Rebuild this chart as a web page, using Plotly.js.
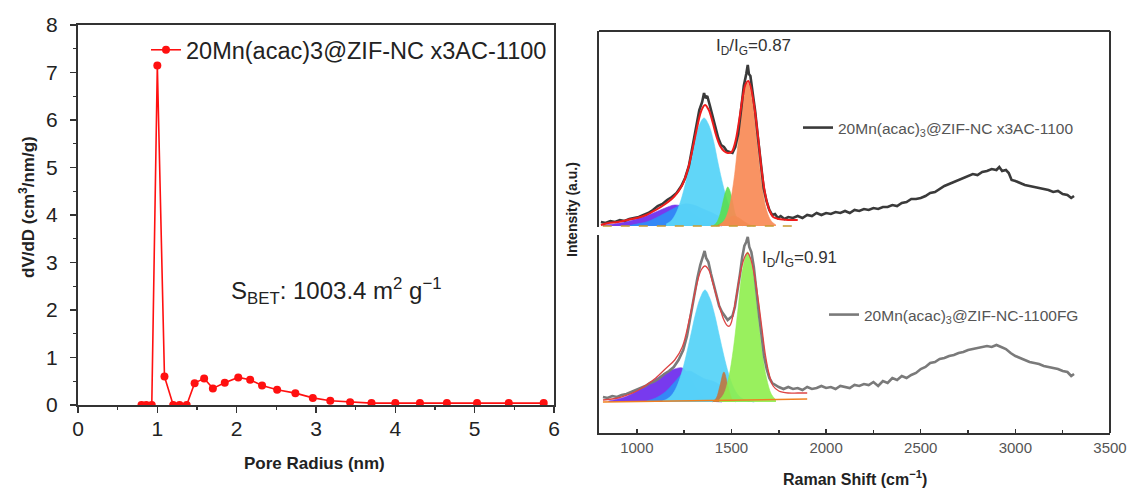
<!DOCTYPE html>
<html>
<head>
<meta charset="utf-8">
<script src="https://cdn.plot.ly/plotly-3.0.1.min.js"></script>
<style>html,body{margin:0;padding:0;background:#fff}#chart{width:1127px;height:488px}</style>
</head>
<body>
<div id="chart"></div>
<script>
// ---------- Left panel: pore size distribution ----------
const poreRadius = [0.80,0.86,0.93,1.00,1.09,1.20,1.28,1.37,1.47,1.59,1.70,1.85,2.02,2.17,2.32,2.51,2.74,2.96,3.18,3.43,3.70,4.00,4.31,4.65,5.03,5.43,5.87];
const dVdD = [0,0,0,7.15,0.60,0,0,0,0.46,0.56,0.35,0.47,0.58,0.53,0.41,0.32,0.25,0.15,0.09,0.06,0.04,0.04,0.04,0.04,0.04,0.04,0.04];
const poreLabel = "20Mn(acac)3@ZIF-NC x3AC-1100";
const poreXTicks = [0,1,2,3,4,5,6];
const poreYTicks = [0,1,2,3,4,5,6,7,8];

// ---------- Right panel: Raman spectra ----------
const topLabel = "20Mn(acac)<sub>3</sub>@ZIF-NC x3AC-1100";
const botLabel = "20Mn(acac)<sub>3</sub>@ZIF-NC-1100FG";
const ramanTicks = [1000,1500,2000,2500,3000,3500];

const topShift = [810,835,860,885,910,935,960,985,1010,1035,1060,1085,1110,1135,1160,1185,1210,1235,1255,1275,1295,1315,1330,1345,1355,1362,1372,1385,1400,1415,1430,1445,1460,1475,1490,1505,1520,1535,1550,1565,1578,1586,1592,1600,1612,1625,1640,1655,1670,1685,1700,1715,1730,1745,1760,1780,1800,1825,1850,1875,1900,1925,1950,1975,2000,2025,2050,2075,2100,2125,2150,2175,2200,2225,2250,2275,2300,2325,2350,2375,2400,2425,2450,2475,2500,2525,2550,2575,2600,2625,2650,2675,2700,2725,2750,2775,2800,2825,2850,2875,2900,2915,2930,2950,2965,2980,3000,3025,3050,3075,3100,3125,3150,3175,3200,3225,3250,3275,3295,3310];
const topInt = [4,3,5,4,6,5,7,8,9,11,13,16,20,22,26,29,33,40,48,60,80,103,116,124,133,128,130,121,110,98,88,81,79,75,74,73,79,92,115,140,152,161,152,150,133,115,88,60,38,25,16,11,12,8,10,7,9,8,10,8,11,10,13,11,13,12,14,13,15,13,16,15,17,16,18,17,19,19,21,20,23,24,27,27,28,30,33,34,37,40,42,44,46,48,50,52,51,54,55,57,56,59,55,56,53,46,45,43,41,40,39,38,37,36,34,35,32,31,28,30];

const topFitShift = [810,850,900,950,1000,1050,1100,1150,1200,1240,1270,1300,1320,1340,1360,1380,1400,1420,1440,1460,1480,1500,1520,1540,1560,1575,1588,1600,1620,1640,1660,1680,1700,1720,1750,1800,1850];
const topFit = [1,3,4,6,8,11,16,22,30,41,57,82,100,115,121,116,104,90,80,75,73,74,84,105,130,142,145,140,120,90,55,30,16,9,7,6,6];

const topPurpleX = [820,880,940,1000,1050,1100,1150,1200,1250,1300,1350,1400,1450];
const topPurpleY = [1,2,4,7,10,14,18,21,19,12,6,2,0];
const topBlueX = [950,1000,1050,1100,1150,1200,1250,1300,1350,1400,1450,1500,1550,1600];
const topBlueY = [0,2,4,8,13,18,22,21,17,13,8,4,1,0];
const topCyanX = [1155,1180,1205,1230,1255,1280,1305,1330,1355,1380,1405,1430,1455,1480,1505,1530,1555];
const topCyanY = [2,5,12,24,41,62,85,101,108,101,85,62,41,24,12,5,2];
const topGreenX = [1400,1420,1440,1455,1470,1480,1490,1505,1520,1540,1560];
const topGreenY = [0,3,12,24,35,39,36,25,12,4,0];
const topBrownX = [1420,1450,1480,1510,1540,1570,1600,1620];
const topBrownY = [0,3,7,10,8,4,1,0];
const topOrangeX = [1435,1460,1485,1510,1535,1560,1585,1610,1635,1660,1685,1710,1735];
const topOrangeY = [1,5,16,42,83,125,143,125,83,42,16,5,1];
const topBaseX = [820,1850];
const topBaseY = [0,0];

const botShift = [821,845,870,895,920,945,970,995,1020,1045,1070,1095,1120,1145,1170,1195,1220,1245,1265,1285,1305,1320,1335,1348,1358,1366,1378,1392,1405,1420,1435,1450,1465,1480,1492,1505,1518,1530,1545,1557,1568,1578,1586,1594,1605,1618,1632,1645,1658,1672,1686,1700,1715,1730,1750,1775,1800,1825,1850,1875,1900,1925,1950,1975,2000,2025,2050,2075,2100,2125,2150,2175,2200,2225,2250,2275,2300,2325,2350,2375,2400,2425,2450,2475,2500,2525,2550,2575,2600,2625,2650,2675,2700,2725,2750,2775,2800,2825,2850,2875,2900,2925,2950,2975,3000,3025,3050,3075,3100,3125,3150,3175,3200,3225,3250,3275,3295,3310];
const botInt = [5,4,6,5,7,8,10,12,14,16,19,21,24,28,31,35,42,52,66,88,110,124,137,145,151,144,140,128,118,106,96,90,86,82,84,86,95,108,128,145,156,160,165,155,150,135,108,88,68,46,33,24,19,17,15,13,15,13,14,12,15,13,14,16,14,15,13,16,15,14,17,16,18,17,20,16,21,19,24,22,26,24,27,29,33,35,39,40,43,44,46,47,49,50,52,53,54,55,56,55,57,55,53,49,46,44,42,40,39,38,36,35,34,33,31,30,26,28];

const botFitShift = [821,900,950,1000,1050,1100,1150,1200,1240,1280,1317,1340,1360,1380,1400,1430,1460,1480,1490,1500,1525,1550,1570,1585,1600,1620,1640,1660,1680,1700,1720,1750,1800,1850,1900];
const botFit = [2,4,7,11,17,24,33,42,55,85,118,132,136,132,120,100,82,76,76,80,105,132,145,149,144,128,104,75,46,27,16,11,9,9,9];

const botPurpleX = [850,900,950,1000,1050,1100,1150,1200,1240,1280,1320,1360,1400,1450];
const botPurpleY = [1,3,6,11,17,23,29,33,34,25,12,4,1,0];
const botBlueX = [1050,1100,1150,1200,1250,1280,1320,1360,1400,1440,1490,1530,1570,1620];
const botBlueY = [1,4,10,20,30,31,27,23,21,17,10,5,2,0];
const botCyanX = [1135,1160,1185,1210,1235,1260,1285,1310,1335,1360,1385,1410,1435,1460,1485,1510,1535,1560,1585];
const botCyanY = [1,3,7,15,28,46,67,88,104,112,104,88,67,46,28,15,7,3,1];
const botBrownX = [1400,1420,1440,1460,1480,1500,1520];
const botBrownY = [0,4,17,30,17,4,0];
const botGreenX = [1435,1460,1485,1510,1535,1560,1585,1610,1635,1660,1685,1710,1735];
const botGreenY = [2,8,24,53,94,134,150,134,94,53,24,8,2];
const botBaseX = [821,1200,1600,1900];
const botBaseY = [0,1,2,3];

// ---------- layout helpers (pixel -> paper, margins are zero) ----------
const W = 1127, H = 488;
const px = v => v / W;
const py = v => 1 - v / H;
const FONT = "Liberation Sans, Arial, sans-serif";
const AX = '#333';

function comp(x, y, color, yaxis) {
  return {x: x, y: y, xaxis: 'x2', yaxis: yaxis, type: 'scatter', mode: 'lines',
    fill: 'tozeroy', fillcolor: color, line: {color: color, width: 0.6, shape: 'spline'},
    showlegend: false, hoverinfo: 'skip'};
}

function note(text, x, y, size, opts) {
  return Object.assign({text: text, xref: 'paper', yref: 'paper', x: px(x), y: py(y),
    xanchor: 'center', yanchor: 'middle', showarrow: false,
    font: {size: size, color: '#222', family: FONT}}, opts || {});
}

const traces = [
  {x: poreRadius, y: dVdD, type: 'scatter', mode: 'lines+markers', name: poreLabel,
   line: {color: '#ff1010', width: 1.6}, marker: {symbol: 'circle', size: 8, color: '#ff1010'},
   xaxis: 'x', yaxis: 'y', legend: 'legend'},

  comp(topPurpleX, topPurpleY, 'rgba(120,58,238,1)', 'y2'),
  comp(topBlueX, topBlueY, 'rgba(48,140,246,0.95)', 'y2'),
  comp(topCyanX, topCyanY, 'rgba(88,212,248,0.95)', 'y2'),
  comp(topGreenX, topGreenY, 'rgba(90,222,80,0.9)', 'y2'),
  comp(topBrownX, topBrownY, 'rgba(184,140,40,0.85)', 'y2'),
  comp(topOrangeX, topOrangeY, 'rgba(249,138,86,0.92)', 'y2'),
  {x: topBaseX, y: topBaseY, xaxis: 'x2', yaxis: 'y2', mode: 'lines', line: {color: '#c89a30', width: 1.5, dash: 'dash'}, showlegend: false, hoverinfo: 'skip'},
  {x: topShift, y: topInt, xaxis: 'x2', yaxis: 'y2', type: 'scatter', mode: 'lines', name: topLabel,
   line: {color: '#3a3a3a', width: 2.6}, legend: 'legend2'},
  {x: topFitShift, y: topFit, xaxis: 'x2', yaxis: 'y2', type: 'scatter', mode: 'lines', line: {color: '#ee1c1c', width: 2, shape: 'spline'}, showlegend: false, hoverinfo: 'skip'},

  comp(botPurpleX, botPurpleY, 'rgba(120,58,238,1)', 'y3'),
  comp(botBlueX, botBlueY, 'rgba(48,140,246,0.95)', 'y3'),
  comp(botCyanX, botCyanY, 'rgba(88,212,248,0.95)', 'y3'),
  comp(botBrownX, botBrownY, 'rgba(192,118,62,0.9)', 'y3'),
  comp(botGreenX, botGreenY, 'rgba(142,238,76,0.9)', 'y3'),
  {x: botBaseX, y: botBaseY, xaxis: 'x2', yaxis: 'y3', mode: 'lines', line: {color: '#f08020', width: 1.5}, showlegend: false, hoverinfo: 'skip'},
  {x: botShift, y: botInt, xaxis: 'x2', yaxis: 'y3', type: 'scatter', mode: 'lines', name: botLabel,
   line: {color: '#7a7a7a', width: 2.6}, legend: 'legend3'},
  {x: botFitShift, y: botFit, xaxis: 'x2', yaxis: 'y3', type: 'scatter', mode: 'lines', line: {color: '#dd4444', width: 1.3, shape: 'spline'}, showlegend: false, hoverinfo: 'skip'}
];

const layout = {
  width: W, height: H,
  margin: {l: 0, r: 0, t: 0, b: 0},
  paper_bgcolor: '#fff', plot_bgcolor: 'rgba(0,0,0,0)',
  font: {family: FONT, color: '#222'},
  hovermode: false,
  xaxis: {domain: [px(78), px(554)], range: [0, 6], anchor: 'y',
    tickvals: poreXTicks, ticks: 'outside', ticklen: 6, tickwidth: 1.5, tickcolor: AX,
    minor: {dtick: 0.5, ticks: 'outside', ticklen: 3, tickcolor: AX, tickwidth: 1.2},
    showline: true, linewidth: 2, linecolor: AX, mirror: true, showgrid: false, zeroline: false,
    ticklabelstandoff: -2,
    tickfont: {size: 21, color: '#222'}},
  yaxis: {domain: [py(405), py(25)], range: [0, 8], anchor: 'x',
    tickvals: poreYTicks, ticks: 'outside', ticklen: 6, tickwidth: 1.5, tickcolor: AX,
    minor: {dtick: 0.5, ticks: 'outside', ticklen: 3, tickcolor: AX, tickwidth: 1.2},
    showline: true, linewidth: 2, linecolor: AX, mirror: true, showgrid: false, zeroline: false,
    ticklabelstandoff: 8,
    tickfont: {size: 21, color: '#222'}},
  xaxis2: {domain: [px(599), px(1110)], range: [800, 3500], anchor: 'y3',
    tickvals: ramanTicks, ticks: 'inside', ticklen: 4, tickwidth: 1.5, tickcolor: AX,
    minor: {dtick: 250, ticks: 'inside', ticklen: 3, tickcolor: AX},
    showline: true, linewidth: 2, linecolor: AX, showgrid: false, zeroline: false,
    tickfont: {size: 15, color: '#555'}},
  yaxis2: {domain: [py(227), py(31)], range: [-1, 195], anchor: 'x2',
    showline: true, linewidth: 2, linecolor: AX, showticklabels: false, ticks: '', showgrid: false, zeroline: false},
  yaxis3: {domain: [py(433), py(235)], range: [-31, 167], anchor: 'x2',
    showline: true, linewidth: 2, linecolor: AX, showticklabels: false, ticks: '', showgrid: false, zeroline: false},
  legend: {x: px(146), y: py(28), xanchor: 'left', yanchor: 'top', bgcolor: 'rgba(0,0,0,0)',
    font: {size: 23.5, color: '#222'}},
  legend2: {x: px(798), y: py(128), xanchor: 'left', yanchor: 'middle', bgcolor: 'rgba(0,0,0,0)',
    font: {size: 15.5, color: '#555'}},
  legend3: {x: px(824), y: py(315), xanchor: 'left', yanchor: 'middle', bgcolor: 'rgba(0,0,0,0)',
    font: {size: 15.5, color: '#555'}},
  shapes: [
    {type: 'line', xref: 'paper', yref: 'paper', x0: px(1110), x1: px(1110), y0: py(433), y1: py(31), line: {color: AX, width: 2}},
    {type: 'line', xref: 'paper', yref: 'paper', x0: px(599), x1: px(1110), y0: py(31), y1: py(31), line: {color: AX, width: 2}}
  ],
  annotations: [
    note('dV/dD (cm<sup>3</sup>/nm/g)', 27, 207, 17, {textangle: -90, font: {size: 17, color: '#222', family: FONT, weight: 'bold'}}),
    note('Pore Radius (nm)', 315, 463, 17, {font: {size: 17, color: '#222', family: FONT, weight: 'bold'}}),
    note('S<sub>BET</sub>: 1003.4 m<sup>2</sup> g<sup>\u22121</sup>', 336, 291, 24),
    note('Intensity (a.u.)', 572, 210, 14, {textangle: -90, font: {size: 14, color: '#222', family: FONT, weight: 'bold'}}),
    note('Raman Shift (cm<sup>\u22121</sup>)', 855, 478, 16, {font: {size: 16, color: '#222', family: FONT, weight: 'bold'}}),
    note('I<sub>D</sub>/I<sub>G</sub>=0.87', 754, 47, 17, {font: {size: 17, color: '#333', family: FONT}}),
    note('I<sub>D</sub>/I<sub>G</sub>=0.91', 799, 259, 17, {font: {size: 17, color: '#333', family: FONT}})
  ]
};

Plotly.newPlot('chart', traces, layout, {staticPlot: true, displayModeBar: false});
</script>
</body>
</html>
